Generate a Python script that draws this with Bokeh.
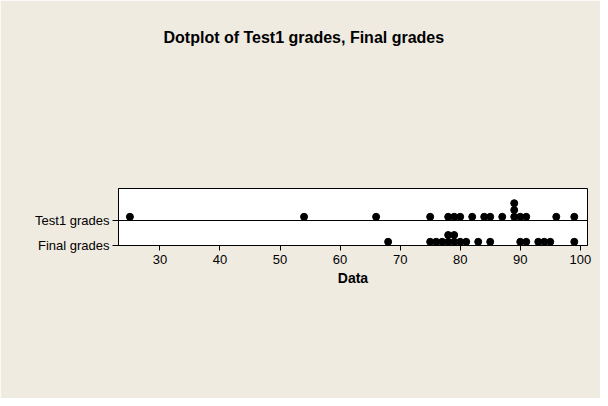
from collections import Counter
from bokeh.plotting import figure
from bokeh.models import Range1d, FixedTicker, Span, Title
from bokeh.embed import file_html
from bokeh.resources import INLINE

# ---- data ----
series = ["Test1 grades", "Final grades"]
test1 = [25, 54, 66, 75, 78, 79, 80, 82, 84, 85, 87, 89, 89, 89, 90, 91, 96, 99]
final = [68, 75, 76, 77, 78, 78, 79, 79, 80, 81, 83, 85, 90, 91, 93, 94, 95, 99]
x_ticks = [30, 40, 50, 60, 70, 80, 90, 100]
title_text = "Dotplot of Test1 grades, Final grades"

BG = "#EFEBE1"
FONT = "Liberation Sans"
PX_PER_UNIT = 25.0
FIRST = 3.7 / PX_PER_UNIT
STEP = 6.8 / PX_PER_UNIT
W, H = 600, 398
B_LEFT, B_TOP, B_RIGHT, B_BOTTOM = 118, 188, 13, 153


def stack(vals, base):
    xs, ys = [], []
    cnt = Counter()
    for v in vals:
        k = cnt[v]
        cnt[v] += 1
        xs.append(v)
        ys.append(base + FIRST + k * STEP)
    return xs, ys


p = figure(width=W, height=H, output_backend="svg", toolbar_location=None,
           x_range=Range1d(23.1, 101.2), y_range=Range1d(0, 2.28),
           min_border_left=B_LEFT, min_border_right=B_RIGHT,
           min_border_top=B_TOP, min_border_bottom=B_BOTTOM)
p.background_fill_color = "white"
p.border_fill_color = BG
p.outline_line_color = "black"
p.outline_line_width = 1
p.xgrid.visible = False
p.ygrid.visible = False

p.add_layout(Span(location=1, dimension="width", line_color="black", line_width=1))

for name, vals, base in [(series[0], test1, 1), (series[1], final, 0)]:
    xs, ys = stack(vals, base)
    p.scatter(xs, ys, size=7, color="black")

# x axis
xa = p.xaxis[0]
xa.ticker = FixedTicker(ticks=x_ticks)
xa.major_tick_in = 0
xa.major_tick_out = 5
xa.minor_tick_line_color = None
xa.axis_line_color = "black"
xa.major_label_text_font = FONT
xa.major_label_text_font_size = "13px"
xa.major_label_text_color = "black"
xa.major_label_standoff = 4
xa.axis_label = "Data"
xa.axis_label_text_font = FONT
xa.axis_label_text_font_style = "bold"
xa.axis_label_text_font_size = "14px"
xa.axis_label_text_color = "black"
xa.axis_label_standoff = 3

# y axis
ya = p.yaxis[0]
ya.ticker = FixedTicker(ticks=[0, 1])
ya.major_label_overrides = {0: series[1], 1: series[0]}
ya.major_tick_in = 0
ya.major_tick_out = 6
ya.minor_tick_line_color = None
ya.axis_line_color = "black"
ya.major_label_text_font = FONT
ya.major_label_text_font_size = "13px"
ya.major_label_text_color = "black"
ya.major_label_standoff = 3

# spacer placed between the frame and the title to lift the title up
spacer = Title(text=" ", text_font_size="1px", standoff=135)
p.add_layout(spacer, "above")

p.title.text = title_text
p.title.text_font = FONT
p.title.text_font_style = "bold"
p.title.text_font_size = "16px"
p.title.text_color = "black"
p.title.align = "left"
p.title.offset = 45

open("out.html", "w").write(file_html(p, INLINE))
